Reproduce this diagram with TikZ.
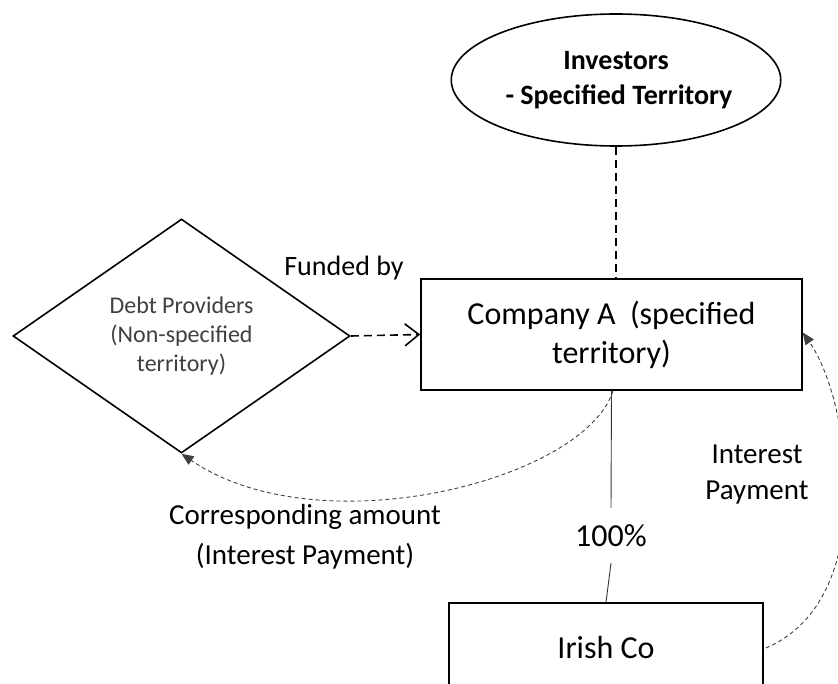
\documentclass[tikz,border=0pt]{standalone}
\usepackage{fontspec}
\setmainfont{Carlito}
\usetikzlibrary{shapes.geometric,arrows.meta}
\begin{document}
\begin{tikzpicture}[x=1pt,y=-1pt,
  boxshape/.style={draw=black,line width=1.6pt,rectangle,inner sep=0pt,align=center},
  bigtext/.style={font=\fontsize{32}{39}\selectfont},
  lbltext/.style={font=\fontsize{29}{38}\selectfont,align=center,inner sep=0pt},
  darkdash/.style={draw=black,line width=1.6pt,dash pattern=on 8pt off 5pt},
  graydash/.style={draw=black!75,line width=0.9pt,dash pattern=on 4pt off 3pt},
  filledtip/.style={-{Triangle[length=12pt,width=10pt]}}
]
\useasboundingbox (0,0) rectangle (838,684);
\clip (0,0) rectangle (838,684);
\fill[white] (0,0) rectangle (838,684);

\node[ellipse,draw=black,line width=1.6pt,minimum width=322pt,minimum height=132pt,inner sep=0pt,
      align=center,font=\bfseries\fontsize{28}{35}\selectfont] (inv) at (616,80)
      {Investors\\\hspace*{6pt}- Specified Territory};

\node[boxshape,bigtext,minimum width=381pt,minimum height=111pt] (comp) at (611.5,334.5)
      {Company A\ \ (specified\\territory)};

\node[boxshape,bigtext,minimum width=314pt,minimum height=90pt] (irish) at (606,648) {Irish Co};

\node[diamond,draw=black,line width=1.6pt,minimum width=337pt,minimum height=234pt,aspect=1.44,
      inner sep=0pt,align=center,text=black!75,font=\fontsize{24}{29}\selectfont] (debt) at (181.5,336)
      {Debt Providers\\(Non-specified\\territory)};

\node[bigtext,inner sep=0pt,minimum height=55pt] (pct) at (611,535.5) {100\%};

\node[font=\fontsize{28}{34}\selectfont,inner sep=0pt] (fund) at (344,268) {Funded by};
\node[lbltext,font=\fontsize{29}{40}\selectfont] (corr) at (305,537) {Corresponding amount\\(Interest Payment)};
\node[lbltext,font=\fontsize{29}{36}\selectfont] (intp) at (757,475) {Interest\\Payment};

\coordinate (invb) at (inv.south);
\draw[darkdash] (invb) -- (invb |- comp.north);

\draw[darkdash,-{Straight Barb[length=14pt,width=22pt,line width=1.6pt]}] (debt.east) -- (comp.west);

\draw[black!80,line width=0.9pt] (comp.south) -- (pct.north);
\draw[black!80,line width=0.9pt] (pct.south) -- (irish.north);

\coordinate (cs) at ([xshift=1.5pt]comp.south);
\draw[graydash,filledtip] (cs) .. controls (585,480) and (320,548) .. (debt.south);

\coordinate (ie) at ([xshift=2pt]irish.east);
\coordinate (ce) at ([yshift=2pt]comp.east);
\draw[graydash,filledtip] (ie) .. controls (880,600) and (850,400) .. (ce);
\end{tikzpicture}
\end{document}
